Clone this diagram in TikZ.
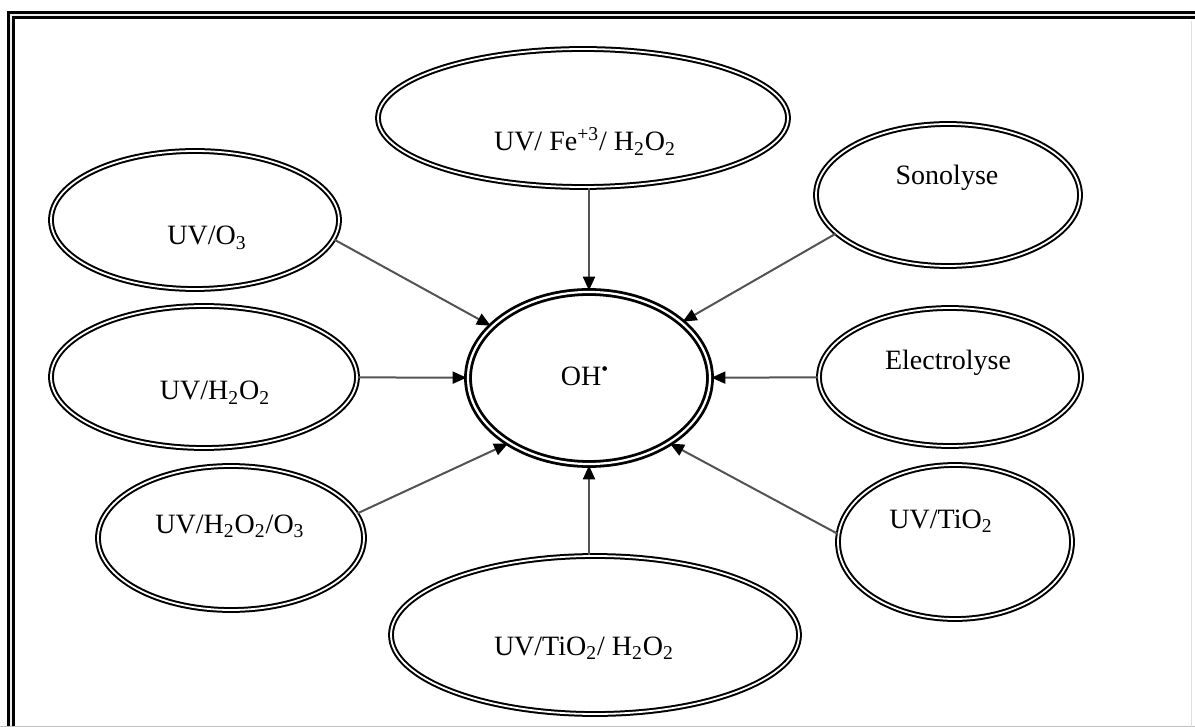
\documentclass[tikz,border=0pt]{standalone}
\usepackage{fontspec}
\setmainfont{Liberation Serif}
\usetikzlibrary{shapes.geometric,arrows.meta}

\begin{document}
\begin{tikzpicture}[x=0.5pt, y=-0.5pt,
  oval/.style={draw, ellipse, double, line width=1pt, double distance=0.9pt, inner sep=0pt},
  core/.style={draw, ellipse, double, line width=1.4pt, double distance=1.1pt, inner sep=0pt},
  lbl/.style={anchor=base, inner sep=0pt, font=\fontsize{14}{16}\selectfont},
  arr/.style={-{Triangle[length=7pt, width=6pt, color=black]}, draw=gray!65!black, line width=1pt},
  frame/.style={double=gray!15, line width=1.6pt, double distance=1.2pt}
]
\useasboundingbox (0,0) rectangle (1195,727);
\draw[frame] (11,15) rectangle (1215,745);
\draw[gray!50, line width=0.5pt] (0,726.5) -- (1195,726.5);
\draw[gray!25, line width=0.5pt] (1191,21) -- (1191,727);

% hub
\node[core, minimum width=121pt, minimum height=86pt] (oh) at (589,378) {};
\node[lbl] (toh) at (585,386) {OH\textsuperscript{\textbullet}};

% sources
\node[oval, minimum width=205pt, minimum height=69pt] (fe) at (583,118) {};
\node[oval, minimum width=144pt, minimum height=69pt] (o3) at (195,220) {};
\node[oval, minimum width=132pt, minimum height=71pt] (sono) at (948,195) {};
\node[oval, minimum width=153pt, minimum height=71pt] (h2o2) at (204,377) {};
\node[oval, minimum width=131pt, minimum height=69pt] (elec) at (950,377) {};
\node[oval, minimum width=133pt, minimum height=72pt] (hho3) at (231,538) {};
\node[oval, minimum width=204pt, minimum height=79pt] (tih) at (595,635) {};
\node[oval, minimum width=117pt, minimum height=77pt] (ti) at (955,542) {};

\node[lbl] (tfe) at (585,151) {UV/ Fe\textsuperscript{+3}/ H\textsubscript{2}O\textsubscript{2}};
\node[lbl] (to3) at (207,245) {UV/O\textsubscript{3}};
\node[lbl] (tsono) at (947,185) {Sonolyse};
\node[lbl] (th2o2) at (215,400) {UV/H\textsubscript{2}O\textsubscript{2}};
\node[lbl] (telec) at (948,370) {Electrolyse};
\node[lbl] (thho3) at (230,533) {UV/H\textsubscript{2}O\textsubscript{2}/O\textsubscript{3}};
\node[lbl] (ttih) at (584,655) {UV/TiO\textsubscript{2}/ H\textsubscript{2}O\textsubscript{2}};
\node[lbl] (tti) at (941,528) {UV/TiO\textsubscript{2}};

% connectors
\draw[arr] (o3.-8) -- (oh.152);
\draw[arr] (fe.south -| oh.north) -- (oh.north);
\draw[arr] (sono.199) -- (oh.31);
\draw[arr] (h2o2) -- (oh);
\draw[arr] (elec) -- (oh);
\draw[arr] (hho3.11) -- (oh.219);
\draw[arr] (tih.north -| oh.south) -- (oh.south);
\draw[arr] (ti.176) -- (oh.-39);
\end{tikzpicture}
\end{document}
